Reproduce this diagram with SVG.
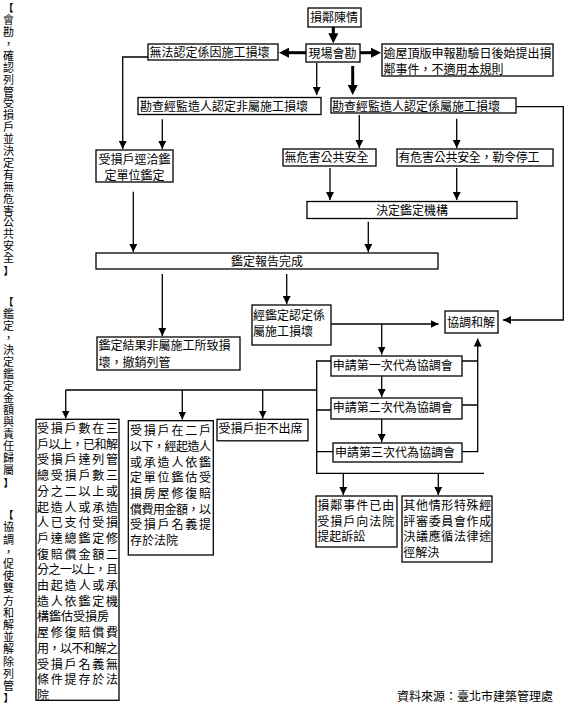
<svg xmlns="http://www.w3.org/2000/svg" width="567" height="705" viewBox="0 0 567 705">
<style>
.b{fill:#fff;stroke:#000;stroke-width:1.3}
.t{font-family:"Noto Sans CJK TC","Noto Sans CJK SC",sans-serif;font-size:12px;fill:#000}
.v{font-family:"Noto Sans CJK TC","Noto Sans CJK SC",sans-serif;font-size:11px;fill:#000;writing-mode:vertical-rl;letter-spacing:0.9px}
.br{font-family:"Noto Sans CJK TC","Noto Sans CJK SC",sans-serif;font-size:10px;fill:#000;text-anchor:middle;font-weight:bold}
.m{text-anchor:middle}
.c{fill:none;stroke:#000;stroke-width:1.3}
.k{fill:none;stroke:#000;stroke-width:3}
.ca{marker-end:url(#ah)}
.ka{marker-end:url(#kh)}
</style>
<defs>
<marker id="ah" viewBox="0 0 10 10" refX="10" refY="5" markerWidth="8" markerHeight="8" markerUnits="userSpaceOnUse" orient="auto"><path d="M0,0L10,5L0,10z" fill="#000"/></marker>
<marker id="kh" viewBox="0 0 10 10" refX="5" refY="5" markerWidth="10" markerHeight="10" markerUnits="userSpaceOnUse" orient="auto"><path d="M0,0L10,5L0,10z" fill="#000"/></marker>
</defs>
<rect width="567" height="705" fill="#fff"/>

<g id="side-labels">
<text class="br" x="8.5" y="11.8">【</text>
<text class="v" x="8.5" y="14.5">會勘，確認列管受損戶並決定有無危害公共安全</text>
<text class="br" x="8.5" y="274.8">】</text>
<text class="br" x="8.5" y="305.8">【</text>
<text class="v" x="8.5" y="308.5" style="letter-spacing:1px">鑑定，決定鑑定金額與責任歸屬</text>
<text class="br" x="8.5" y="486.8">】</text>
<text class="br" x="8.5" y="518.8">【</text>
<text class="v" x="8.5" y="521.7" style="letter-spacing:1.2px">協調，促使雙方和解並解除列管</text>
<text class="br" x="8.5" y="701.8">】</text>
</g>

<g id="connectors">
<path class="k ka" d="M333.3,27V38.3"/>
<path class="k ka" d="M306,52.7H284"/>
<path class="k ka" d="M360,52.7H376"/>
<path class="k ka" d="M352.7,66V90"/>
<path class="c ca" d="M316.7,63V95"/>
<path class="c ca" d="M148,57H122.7V149"/>
<path class="c ca" d="M162.3,119.3V149"/>
<path class="c ca" d="M359.3,115V148"/>
<path class="c ca" d="M456.7,118.7V148"/>
<path class="c ca" d="M330,168V200"/>
<path class="c ca" d="M456.7,168V200"/>
<path class="c ca" d="M368.3,221.7V252"/>
<path class="c ca" d="M133.3,191.7V252"/>
<path class="c ca" d="M162.3,274V336"/>
<path class="c ca" d="M286.7,274V304"/>
<path class="c ca" d="M516,106.7H563.3V320H503"/>
<path class="c ca" d="M331,324H438.5"/>
<path class="c ca" d="M381.7,324V354.5"/>
<path class="c ca" d="M381.7,376V397"/>
<path class="c ca" d="M381.7,419V442"/>
<path class="c" d="M462,361H477.7M462,405H477.7"/>
<path class="c ca" d="M462,451.7H477.7V338.5"/>
<path class="c" d="M331,361H316.7V473.3H484M316.7,410H331M316.7,451.7H333M316.7,390H65.7"/>
<path class="c ca" d="M65.7,390V418.5"/>
<path class="c ca" d="M182.3,390V419.5"/>
<path class="c ca" d="M262.7,390V418.5"/>
<path class="c ca" d="M343.3,473.3V495"/>
<path class="c ca" d="M438.3,473.3V495"/>
</g>

<g id="n1"><rect class="b" x="308" y="8" width="53" height="19"/><text class="t" x="310" y="21.5">損鄰陳情</text></g>
<g id="n2"><rect class="b" x="306" y="44" width="54" height="18"/><text class="t" x="308.5" y="57.5">現場會勘</text></g>
<g id="n3"><rect class="b" x="148" y="44" width="130" height="16"/><text class="t" x="149.5" y="57">無法認定係因施工損壞</text></g>
<g id="n4"><rect class="b" x="382" y="44" width="171" height="32"/><text class="t" x="383.5" y="58">逾屋頂版申報勘驗日後始提出損</text><text class="t" x="383.5" y="74">鄰事件，不適用本規則</text></g>
<g id="n5"><rect class="b" x="138" y="97.5" width="183" height="17"/><text class="t" x="140" y="111">勘查經監造人認定非屬施工損壞</text></g>
<g id="n6"><rect class="b" x="331" y="98" width="185" height="15"/><text class="t" x="332" y="110.5">勘查經監造人認定係屬施工損壞</text></g>
<g id="n7"><rect class="b" x="96" y="150" width="77" height="32"/><text class="t m" x="134.5" y="164">受損戶逕洽鑑</text><text class="t m" x="134.5" y="180">定單位鑑定</text></g>
<g id="n8"><rect class="b" x="283" y="149" width="93" height="17"/><text class="t" x="284.5" y="161.5">無危害公共安全</text></g>
<g id="n9"><rect class="b" x="397" y="149" width="156" height="17"/><text class="t" x="398.5" y="161.5" textLength="141" lengthAdjust="spacing">有危害公共安全，勒令停工</text></g>
<g id="n10"><rect class="b" x="307" y="201.5" width="210" height="17"/><text class="t m" x="412" y="215">決定鑑定機構</text></g>
<g id="n11"><rect class="b" x="96" y="253" width="342" height="16"/><text class="t m" x="267" y="266">鑑定報告完成</text></g>
<g id="n12"><rect class="b" x="97" y="337" width="143" height="33"/><text class="t" x="98.5" y="350.2">鑑定結果非屬施工所致損</text><text class="t" x="98.5" y="366.8">壞，撤銷列管</text></g>
<g id="n13"><rect class="b" x="252" y="305" width="79" height="40"/><text class="t" x="253" y="319.5">經鑑定認定係</text><text class="t" x="253" y="336.2">屬施工損壞</text></g>
<g id="n14"><rect class="b" x="445" y="311" width="53" height="22"/><text class="t" x="447" y="327">協調和解</text></g>
<g id="n15"><rect class="b" x="331" y="356" width="131" height="20"/><text class="t" x="332.7" y="369.5">申請第一次代為協調會</text></g>
<g id="n16"><rect class="b" x="331" y="398" width="131" height="21"/><text class="t" x="332.7" y="412">申請第二次代為協調會</text></g>
<g id="n17"><rect class="b" x="333" y="443" width="129" height="19"/><text class="t" x="335" y="457">申請第三次代為協調會</text></g>
<g id="n18"><rect class="b" x="36" y="419.3" width="83" height="281"/>
<text class="t"><tspan x="37" y="433" textLength="81" lengthAdjust="spacing">受損戶數在三</tspan><tspan x="37" y="448.7" textLength="81" lengthAdjust="spacing">戶以上，已和解</tspan><tspan x="37" y="464.4" textLength="81" lengthAdjust="spacing">受損戶達列管</tspan><tspan x="37" y="480.1" textLength="81" lengthAdjust="spacing">總受損戶數三</tspan><tspan x="37" y="495.8" textLength="81" lengthAdjust="spacing">分之二以上或</tspan><tspan x="37" y="511.5" textLength="81" lengthAdjust="spacing">起造人或承造</tspan><tspan x="37" y="527.2" textLength="81" lengthAdjust="spacing">人已支付受損</tspan><tspan x="37" y="542.9" textLength="81" lengthAdjust="spacing">戶達總鑑定修</tspan><tspan x="37" y="558.6" textLength="81" lengthAdjust="spacing">復賠償金額二</tspan><tspan x="37" y="574.3" textLength="81" lengthAdjust="spacing">分之一以上，且</tspan><tspan x="37" y="590" textLength="81" lengthAdjust="spacing">由起造人或承</tspan><tspan x="37" y="605.7" textLength="81" lengthAdjust="spacing">造人依鑑定機</tspan><tspan x="37" y="621.4">構鑑估受損房</tspan><tspan x="37" y="637.1" textLength="81" lengthAdjust="spacing">屋修復賠償費</tspan><tspan x="37" y="652.8" textLength="81" lengthAdjust="spacing">用，以不和解之</tspan><tspan x="37" y="668.5" textLength="81" lengthAdjust="spacing">受損戶名義無</tspan><tspan x="37" y="684.2" textLength="81" lengthAdjust="spacing">條件提存於法</tspan><tspan x="37" y="699.9">院</tspan></text></g>
<g id="n19"><rect class="b" x="128.3" y="420.7" width="85" height="134.3"/>
<text class="t"><tspan x="130" y="435.2" textLength="81" lengthAdjust="spacing">受損戶在二戶</tspan><tspan x="130" y="450.9" textLength="81" lengthAdjust="spacing">以下，經起造人</tspan><tspan x="130" y="466.6" textLength="81" lengthAdjust="spacing">或承造人依鑑</tspan><tspan x="130" y="482.3" textLength="81" lengthAdjust="spacing">定單位鑑估受</tspan><tspan x="130" y="498" textLength="81" lengthAdjust="spacing">損房屋修復賠</tspan><tspan x="130" y="513.7" textLength="81" lengthAdjust="spacing">償費用金額，以</tspan><tspan x="130" y="529.4" textLength="81" lengthAdjust="spacing">受損戶名義提</tspan><tspan x="130" y="545.1">存於法院</tspan></text></g>
<g id="n20"><rect class="b" x="217" y="419.3" width="91" height="21.5"/><text class="t" x="218.5" y="433">受損戶拒不出席</text></g>
<g id="n21"><rect class="b" x="316" y="496" width="81" height="51"/>
<text class="t"><tspan x="317.3" y="510" textLength="77" lengthAdjust="spacing">損鄰事件已由</tspan><tspan x="317.3" y="525.5" textLength="77" lengthAdjust="spacing">受損戶向法院</tspan><tspan x="317.3" y="541">提起訴訟</tspan></text></g>
<g id="n22"><rect class="b" x="402" y="496" width="90" height="66"/>
<text class="t"><tspan x="403.3" y="510" textLength="88" lengthAdjust="spacing">其他情形特殊經</tspan><tspan x="403.3" y="525.5" textLength="88" lengthAdjust="spacing">評審委員會作成</tspan><tspan x="403.3" y="541" textLength="88" lengthAdjust="spacing">決議應循法律途</tspan><tspan x="403.3" y="556.5">徑解決</tspan></text></g>

<g id="source"><text class="t" x="397" y="701">資料來源：臺北市建築管理處</text></g>
</svg>
